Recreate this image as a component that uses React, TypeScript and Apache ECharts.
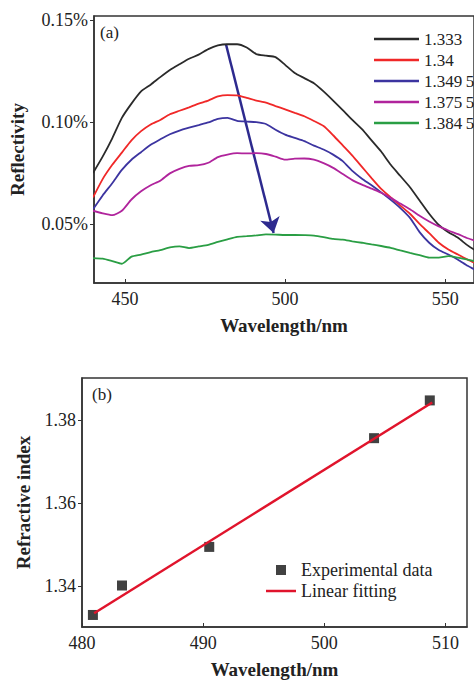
import React, { useEffect, useRef } from "react";
import * as echarts from "echarts";

// ---- Panel (a): reflectivity spectra ----
const wavelengths = [
  440, 443, 446, 449, 452, 455, 458, 461, 464, 467, 470, 473, 476, 479, 482, 485, 488, 491, 494, 497,
  500, 503, 506, 509, 512, 515, 518, 521, 524, 527, 530, 533, 536, 539, 542, 545, 548, 551, 554, 557, 560,
];
const seriesNames = ["1.333", "1.34", "1.349\u20095", "1.375\u20095", "1.384\u20095"];
const r1333 = [
  0.075, 0.083, 0.092, 0.102, 0.109, 0.115, 0.1183, 0.122, 0.1255, 0.1283, 0.131, 0.133, 0.1357, 0.1375,
  0.1381, 0.1381, 0.1365, 0.1333, 0.1325, 0.1318, 0.128, 0.124, 0.1215, 0.119, 0.115, 0.1105, 0.1058,
  0.101, 0.0965, 0.091, 0.0855, 0.079, 0.0735, 0.068, 0.0615, 0.055, 0.0495, 0.046, 0.0432, 0.0395, 0.0365,
];
const r134 = [
  0.063, 0.072, 0.079, 0.085, 0.091, 0.0955, 0.0988, 0.101, 0.1038, 0.1055, 0.1072, 0.109, 0.1105, 0.1125,
  0.1132, 0.113, 0.1118, 0.1105, 0.1095, 0.1078, 0.1062, 0.1045, 0.1028, 0.1005, 0.098, 0.0935, 0.0885,
  0.0835, 0.078, 0.0725, 0.0672, 0.063, 0.059, 0.055, 0.05, 0.0455, 0.0408, 0.0375, 0.035, 0.0325, 0.0305,
];
const r13495 = [
  0.0572, 0.064, 0.07, 0.0765, 0.0815, 0.0852, 0.0888, 0.0915, 0.094, 0.0958, 0.0972, 0.0985, 0.0998,
  0.1015, 0.102, 0.1006, 0.1002, 0.0999, 0.099, 0.0962, 0.0938, 0.0922, 0.0906, 0.0884, 0.0865, 0.084,
  0.0808, 0.076, 0.0722, 0.069, 0.0655, 0.0618, 0.0578, 0.053, 0.046, 0.0408, 0.0372, 0.035, 0.0325,
  0.0295, 0.027,
];
const r13755 = [
  0.0565, 0.0552, 0.0543, 0.0565, 0.062, 0.066, 0.069, 0.0712, 0.0748, 0.077, 0.0785, 0.0788, 0.08,
  0.0828, 0.084, 0.0847, 0.0846, 0.0847, 0.0843, 0.083, 0.0815, 0.082, 0.0821, 0.0815, 0.0798, 0.0775,
  0.0745, 0.0715, 0.0693, 0.0673, 0.0653, 0.0628, 0.06, 0.0572, 0.054, 0.0512, 0.0488, 0.0468, 0.045,
  0.043, 0.0415,
];
const r13845 = [
  0.0333, 0.033, 0.0318, 0.0305, 0.034, 0.035, 0.0362, 0.0372, 0.0385, 0.039, 0.0382, 0.039, 0.0398,
  0.0412, 0.0425, 0.0437, 0.044, 0.0444, 0.0449, 0.0448, 0.0446, 0.0446, 0.0445, 0.0443, 0.0436, 0.0427,
  0.0423, 0.0415, 0.0408, 0.04, 0.0392, 0.0383, 0.037, 0.0358, 0.0347, 0.0335, 0.0335, 0.0342, 0.0335,
  0.0325, 0.0315,
];
const arrowStart = [481.5, 0.1382];
const arrowEnd = [496.4, 0.0456];
const topXTicks = [450, 500, 550];
const topYTicks = [0.05, 0.1, 0.15];

// ---- Panel (b): refractive index vs peak wavelength ----
const peakWavelengths = [480.9, 483.3, 490.5, 504.1, 508.7];
const refractiveIndex = [1.3331, 1.3402, 1.3495, 1.3757, 1.3848];
const fitWavelengths = [481.0, 508.9];
const fitIndex = [1.3335, 1.3843];
const botXTicks = [480, 490, 500, 510];
const botYTicks = [1.34, 1.36, 1.38];

const colors = ["#2a2a2a", "#f02828", "#3c34a0", "#b0249c", "#2a9e44"];
const FONT = "'Liberation Serif', 'Times New Roman', serif";

export default function App() {
  const ref = useRef<HTMLDivElement>(null);
  useEffect(() => {
    if (!ref.current) return;
    const chart = echarts.init(ref.current, null, { renderer: "svg" });
    const spectra = [r1333, r134, r13495, r13755, r13845];
    const axisLine = { show: true, lineStyle: { color: "#333", width: 1.5 } };
    const labelStyle = { color: "#222", fontFamily: FONT, fontSize: 18 };
    const nameStyle = { color: "#222", fontFamily: FONT, fontSize: 19, fontWeight: "bold" as const };
    chart.setOption({
      animation: false,
      backgroundColor: "#fff",
      grid: [
        { left: 94, top: 16, width: 381, height: 267, show: true, borderColor: "#333", borderWidth: 1.5, backgroundColor: "transparent" },
        { left: 82, top: 378, width: 385, height: 252, show: true, borderColor: "#333", borderWidth: 1.5, backgroundColor: "transparent" },
      ],
      xAxis: [
        {
          gridIndex: 0, type: "value", min: 440.3, max: 559.0, splitNumber: 2,
          axisLine, splitLine: { show: false },
          axisTick: { inside: true, length: 4, customValues: topXTicks, lineStyle: { color: "#333" } },
          axisLabel: { ...labelStyle, margin: 7, customValues: topXTicks, formatter: (v: number) => String(v) },
          name: "Wavelength/nm", nameLocation: "middle", nameGap: 33, nameTextStyle: nameStyle,
        },
        {
          gridIndex: 1, type: "value", min: 480, max: 511.77, splitNumber: 3,
          axisLine, splitLine: { show: false },
          axisTick: { inside: true, length: 4, customValues: botXTicks, lineStyle: { color: "#333" } },
          axisLabel: { ...labelStyle, margin: 7, customValues: botXTicks, formatter: (v: number) => String(v) },
          name: "Wavelength/nm", nameLocation: "middle", nameGap: 33, nameTextStyle: nameStyle,
        },
      ],
      yAxis: [
        {
          gridIndex: 0, type: "value", min: 0.02106, max: 0.15196, splitNumber: 2,
          axisLine, splitLine: { show: false },
          axisTick: { inside: false, length: 4, customValues: topYTicks, lineStyle: { color: "#333" } },
          axisLabel: { ...labelStyle, margin: 6, customValues: topYTicks, formatter: (v: number) => v.toFixed(2) + "%" },
          name: "Reflectivity", nameLocation: "middle", nameGap: 67, nameTextStyle: nameStyle,
        },
        {
          gridIndex: 1, type: "value", min: 1.3302, max: 1.3902, splitNumber: 3,
          axisLine, splitLine: { show: false },
          axisTick: { inside: false, length: 4, customValues: botYTicks, lineStyle: { color: "#333" } },
          axisLabel: { ...labelStyle, margin: 6, customValues: botYTicks, formatter: (v: number) => v.toFixed(2) },
          name: "Refractive index", nameLocation: "middle", nameGap: 49, nameTextStyle: nameStyle,
        },
      ],
      legend: [
        {
          data: seriesNames.map((n) => ({ name: n, icon: "path://M0,0H45V2.5H0Z" })),
          orient: "vertical", left: 369, top: 23.5, itemWidth: 45, itemHeight: 10, itemGap: 0,
          textStyle: { fontFamily: FONT, fontSize: 17, color: "#222", lineHeight: 21 },
        },
        {
          data: [
            { name: "Experimental data", icon: "path://M0,0H10V10H0Z" },
            { name: "Linear fitting", icon: "path://M0,0H30V2.5H0Z" },
          ],
          orient: "vertical", left: 261, top: 554.5, itemWidth: 30, itemHeight: 10, itemGap: 0,
          textStyle: { fontFamily: FONT, fontSize: 18, color: "#222", lineHeight: 21 },
        },
      ],
      series: [
        ...spectra.map((vals, i) => ({
          name: seriesNames[i], type: "line", xAxisIndex: 0, yAxisIndex: 0,
          data: wavelengths.map((w, j) => [w, vals[j]]),
          symbol: "none", smooth: 0.2, clip: true,
          lineStyle: { color: colors[i], width: 1.8 }, itemStyle: { color: colors[i] },
        })),
        {
          name: "arrow", type: "lines", coordinateSystem: "cartesian2d", xAxisIndex: 0, yAxisIndex: 0,
          data: [{ coords: [arrowStart, arrowEnd] }],
          symbol: ["none", "arrow"], symbolSize: 15, silent: true,
          lineStyle: { color: "#2d2a8e", width: 2.5, opacity: 1, curveness: 0 },
        },
        {
          name: "Experimental data", type: "scatter", xAxisIndex: 1, yAxisIndex: 1,
          data: peakWavelengths.map((w, i) => [w, refractiveIndex[i]]),
          symbol: "rect", symbolSize: 10, itemStyle: { color: "#111" },
        },
        {
          name: "Linear fitting", type: "line", xAxisIndex: 1, yAxisIndex: 1,
          data: fitWavelengths.map((w, i) => [w, fitIndex[i]]),
          symbol: "none", lineStyle: { color: "#e0142c", width: 2.5 }, itemStyle: { color: "#e0142c" },
        },
      ],
      graphic: [
        { type: "text", left: 100, top: 24, style: { text: "(a)", fontFamily: FONT, fontSize: 17, fill: "#222" } },
        { type: "text", left: 92, top: 386, style: { text: "(b)", fontFamily: FONT, fontSize: 17, fill: "#222" } },
      ],
    });
    return () => chart.dispose();
  }, []);
  return <div ref={ref} style={{ position: "absolute", left: 0, top: 0, width: 474, height: 680 }} />;
}
